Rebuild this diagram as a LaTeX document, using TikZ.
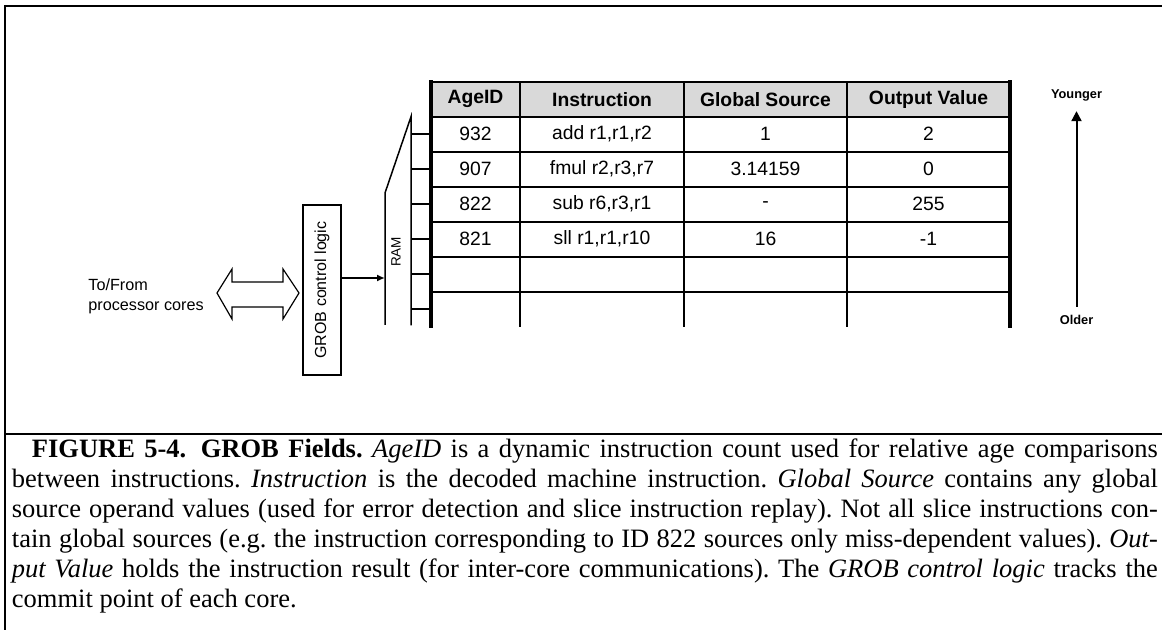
\documentclass[tikz,border=0pt]{standalone}
\usepackage{fontspec}
\setmainfont{Liberation Serif}
\newfontfamily\arialfont{Liberation Sans}
\usetikzlibrary{arrows.meta}
\frenchspacing

\newlength\capw
\setlength\capw{573pt}
\newcommand\capline[1]{\makebox[\capw][s]{#1}}

\tikzset{
  frameline/.style={line width=1.25pt},
  gridline/.style={line width=1pt},
  outerline/.style={line width=1.75pt},
  ramline/.style={line width=0.75pt},
  cell/.style={inner sep=0pt, font=\arialfont\fontsize{9.65}{11}\selectfont},
  headcell/.style={cell, font=\arialfont\bfseries\fontsize{9.65}{11}\selectfont},
  agelabel/.style={inner sep=0pt, font=\arialfont\bfseries\fontsize{6.4}{7}\selectfont},
  grobbox/.style={draw, line width=0.6pt, rotate=90, minimum width=85pt,
    minimum height=19pt, inner sep=0pt, font=\arialfont\fontsize{8}{9}\selectfont},
}

\begin{document}
\begin{tikzpicture}[x=0.5pt, y=-0.5pt]
\useasboundingbox (0,0) rectangle (1162,630);

% page frame and caption rule
\draw[frameline] (5,6) -- (1162,6);
\draw[line width=1pt] (5,5) -- (5,630);
\draw[frameline] (5,434) -- (1162,434);

% GROB table: header shading and grid
\fill[black!15] (431,81.7) rectangle (1010,116.7);
\draw[gridline] (431,81.7) -- (1010,81.7);
\foreach \yy in {116.7,151.7,186.7,221.7,256.7,291.7}
  \draw[gridline] (431,\yy) -- (1010,\yy);
\foreach \xx in {520,684,847}
  \draw[gridline] (\xx,81.7) -- (\xx,327);
\draw[outerline] (431,80.5) -- (431,328);
\draw[outerline] (1010,80.5) -- (1010,328);

% header
\node[headcell] (h1) at (475.5,99.2) {AgeID};
\node[headcell] (h2) at (602,99.2) {Instruction};
\node[headcell] (h3) at (765.5,99.2) {Global Source};
\node[headcell] (h4) at (928.5,99.2) {Output Value};

% entries
\node[cell] (a1) at (475.5,134.2) {932};
\node[cell] (b1) at (602,134.2) {add r1,r1,r2};
\node[cell] (c1) at (765.5,134.2) {1};
\node[cell] (d1) at (928.5,134.2) {2};
\node[cell] (a2) at (475.5,169.2) {907};
\node[cell] (b2) at (602,169.2) {fmul r2,r3,r7};
\node[cell] (c2) at (765.5,169.2) {3.14159};
\node[cell] (d2) at (928.5,169.2) {0};
\node[cell] (a3) at (475.5,204.2) {822};
\node[cell] (b3) at (602,204.2) {sub r6,r3,r1};
\node[cell] (c3) at (765.5,204.2) {-};
\node[cell] (d3) at (928.5,204.2) {255};
\node[cell] (a4) at (475.5,239.2) {821};
\node[cell] (b4) at (602,239.2) {sll r1,r1,r10};
\node[cell] (c4) at (765.5,239.2) {16};
\node[cell] (d4) at (928.5,239.2) {-1};

% RAM decoder shape with one tick per row
\draw[ramline] (385,325) -- (385,193) -- (411,116.7) -- (411,325.5);
\foreach \yy in {134.2,169.2,204.2,239.2,274.2,309.2}
  \draw[ramline] (411,\yy) -- (431,\yy);
\node[rotate=90, inner sep=0pt, font=\arialfont\fontsize{6.75}{8}\selectfont] (ram) at (396,252) {RAM};
\coordinate (ramin) at (385,278);

% control logic
\node[grobbox] (grob) at (322,290) {GROB control logic};
\draw[line width=1.2pt, -{Latex[length=4pt,width=3.5pt]}] (grob.south |- ramin) -- (ramin);

% link to the cores
\draw[line width=0.6pt] (217,293) -- (232,269) -- (232,282) -- (283,282) -- (283,269)
  -- (299,293) -- (283,319) -- (283,307) -- (232,307) -- (232,319) -- cycle;
\node[anchor=west, align=left, inner sep=0pt, font=\arialfont\fontsize{8.1}{10}\selectfont]
  (cores) at (88,296) {To/From\\processor cores};

% age direction
\node[agelabel] (young) at (1076.5,95) {Younger};
\node[agelabel] (old) at (1076.5,320) {Older};
\draw[line width=1pt, -{Triangle[length=5pt,width=5pt]}, shorten <=4pt, shorten >=5pt] (old.north) -- (young.south);

% caption
\node[anchor=base west, inner sep=0pt] (caption) at (11.5,458) {\parbox[t]{\capw}{%
\fontsize{13.25}{15}\selectfont
\hspace*{10pt}\makebox[\dimexpr\capw-10pt\relax][s]{\textbf{FIGURE 5-4.\hspace{0.55em}GROB Fields.} \textit{AgeID} is a dynamic instruction count used for relative age comparisons}\\
\capline{between instructions. \textit{Instruction} is the decoded machine instruction. \textit{Global Source} contains any global}\\
\capline{source operand values (used for error detection and slice instruction replay). Not all slice instructions con-}\\
\capline{tain global sources (e.g. the instruction corresponding to ID 822 sources only miss-dependent values). \textit{Out-}}\\
\capline{\textit{put Value} holds the instruction result (for inter-core communications). The \textit{GROB control logic} tracks the}\\
commit point of each core.}};
\end{tikzpicture}
\end{document}
